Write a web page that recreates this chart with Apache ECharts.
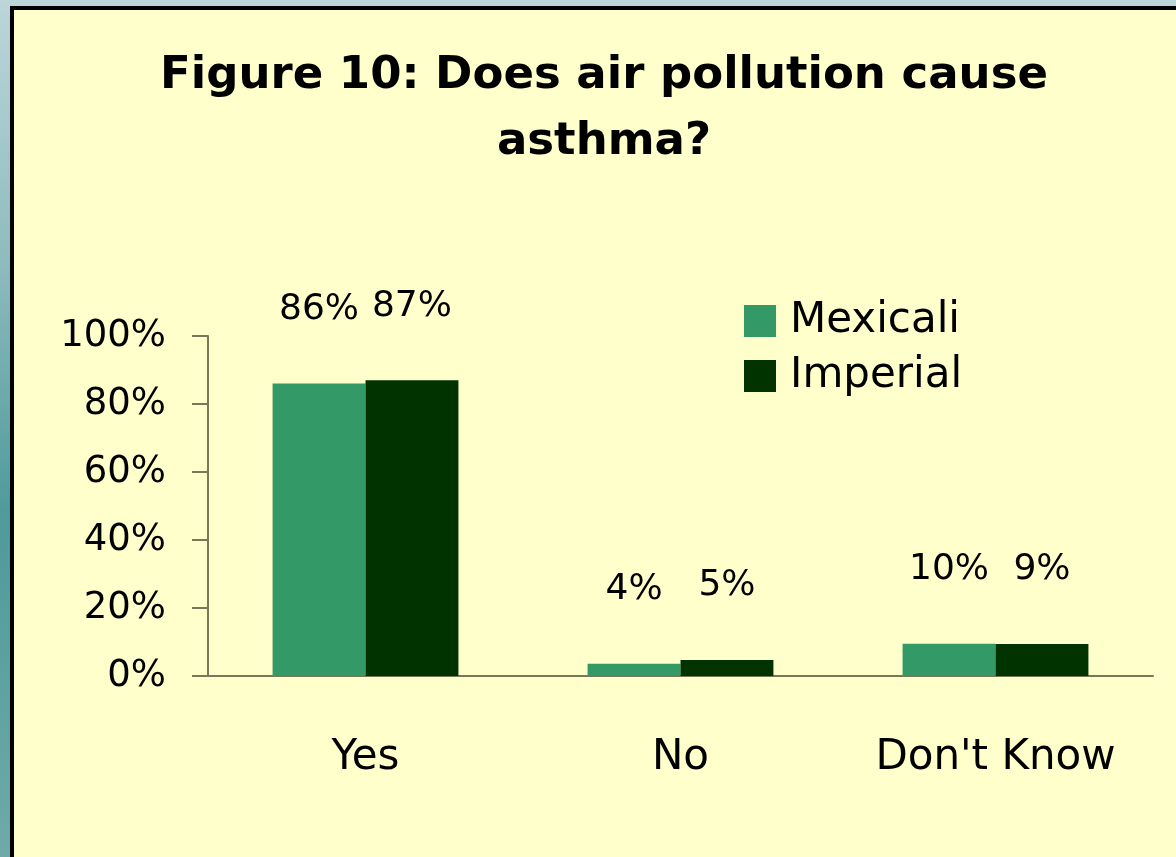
<!DOCTYPE html>
<html>
<head>
<meta charset="utf-8">
<script src="https://cdn.jsdelivr.net/npm/echarts@6/dist/echarts.min.js"></script>
<style>
html,body{margin:0;padding:0;width:1176px;height:857px;overflow:hidden;}
body{background:linear-gradient(180deg,#bcd6da 0%,#8fbcbf 30%,#4f9a9a 60%,#6eaaa8 100%);position:relative;}
#panel{position:absolute;left:10px;top:6px;width:1166px;height:851px;box-sizing:border-box;border-left:4px solid #000;border-top:4px solid #000;background:#FFFFCC;}
#chart{position:absolute;left:0;top:0;width:1176px;height:857px;}
</style>
</head>
<body>
<div id="panel"></div>
<div id="chart"></div>
<script>
const titleText = "Figure 10: Does air pollution cause\nasthma?";
const categories = ["Yes", "No", "Don't Know"];
const seriesNames = ["Mexicali", "Imperial"];
const mexicali = [86, 3.6, 9.5];
const imperial = [87, 4.7, 9.4];
const yTicks = [0, 20, 40, 60, 80, 100];
const colors = ["#339966", "#003300"];

const FONT = "'DejaVu Sans', sans-serif";
const chart = echarts.init(document.getElementById('chart'), null, {renderer: 'canvas'});
const labelOpt = {
  show: true, position: 'top', distance: 56,
  fontSize: 36, color: '#000', fontFamily: FONT,
  formatter: p => Math.round(p.value) + '%'
};
chart.setOption({
  backgroundColor: 'transparent',
  animation: false,
  title: {
    text: titleText, left: 604, textAlign: 'center', top: 43, padding: 0,
    textStyle: {fontSize: 45, fontWeight: 'bold', color: '#000', fontFamily: FONT, lineHeight: 66}
  },
  legend: {
    data: seriesNames, orient: 'vertical', left: 739, top: 295,
    itemWidth: 32, itemHeight: 32, itemGap: 13, icon: 'rect',
    textStyle: {fontSize: 42, color: '#000', fontFamily: FONT, padding: [0, 0, 0, 9]}
  },
  grid: {left: 208, right: 23, top: 336, bottom: 181, containLabel: false},
  xAxis: {
    type: 'category', data: categories,
    axisLine: {lineStyle: {color: '#77775a', width: 2}},
    axisTick: {length: 14, lineStyle: {color: '#77775a', width: 2}},
    axisLabel: {fontSize: 42, color: '#000', fontFamily: FONT, margin: 61}
  },
  yAxis: {
    type: 'value', min: yTicks[0], max: yTicks[yTicks.length - 1], interval: 20,
    axisLine: {show: true, lineStyle: {color: '#77775a', width: 2}},
    axisTick: {show: true, length: 16, lineStyle: {color: '#77775a', width: 2}},
    splitLine: {show: false},
    axisLabel: {fontSize: 37, color: '#000', fontFamily: FONT, margin: 42, formatter: '{value}%'}
  },
  series: [
    {name: seriesNames[0], type: 'bar', data: mexicali, barGap: '0%', barCategoryGap: '41%',
     itemStyle: {color: colors[0]}, label: labelOpt},
    {name: seriesNames[1], type: 'bar', data: imperial, barGap: '0%', barCategoryGap: '41%',
     itemStyle: {color: colors[1]}, label: labelOpt}
  ]
});
</script>
</body>
</html>
